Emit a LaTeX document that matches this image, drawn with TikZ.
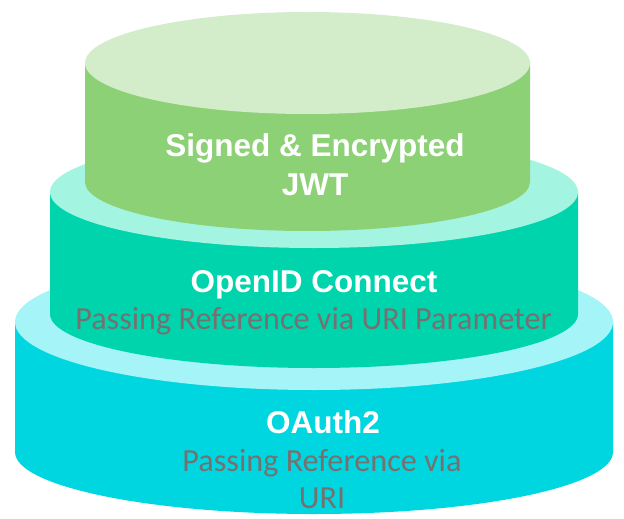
\documentclass[tikz,border=0pt]{standalone}
\usepackage{fontspec}
\setmainfont{Liberation Sans}
\newfontfamily\notefont{Carlito}

\definecolor{jwttop}{HTML}{D3EDCB}
\definecolor{jwtbody}{HTML}{8DD176}
\definecolor{oidctop}{HTML}{A3F5E1}
\definecolor{oidcbody}{HTML}{00D4AC}
\definecolor{oauthtop}{HTML}{A4F4F8}
\definecolor{oauthbody}{HTML}{00D6E0}
\definecolor{notegray}{HTML}{767171}

\tikzset{
  title/.style={text=white, inner sep=0pt, anchor=base,
    font=\fontsize{31.5}{39}\selectfont\bfseries},
  note/.style={text=notegray, inner sep=0pt, anchor=base,
    font=\notefont\fontsize{32.2}{38}\selectfont},
}

\begin{document}
\begin{tikzpicture}[x=1pt,y=-1pt]
\useasboundingbox (0,0) rectangle (624,519);

% bottom drum: OAuth2
\fill[oauthbody] (15,322) -- (15,452)
  arc[start angle=180,end angle=360,x radius=299pt,y radius=62pt]
  -- (613,322) -- cycle;
\fill[oauthtop] (314,322) ellipse[x radius=299pt,y radius=68pt];

% middle drum: OpenID Connect
\fill[oidcbody] (50,192) -- (50,314)
  arc[start angle=180,end angle=360,x radius=264pt,y radius=54pt]
  -- (578,192) -- cycle;
\fill[oidctop] (314,192) ellipse[x radius=264pt,y radius=56pt];

% top drum: JWT
\fill[jwtbody] (85,63) -- (85,182)
  arc[start angle=180,end angle=360,x radius=222.5pt,y radius=49pt]
  -- (530,63) -- cycle;
\fill[jwttop] (307.5,63) ellipse[x radius=222.5pt,y radius=51pt];

% labels
\node[title] (jwt1) at (315,156) {Signed \& Encrypted};
\node[title] (jwt2) at (315,195) {JWT};

\node[title] (oidc) at (314,292) {OpenID Connect};
\node[note]  (oidcnote) at (313.5,329) {Passing Reference via URI Parameter};

\node[title] (oauth) at (323,433) {OAuth2};
\node[note]  (oauthnote1) at (322,471) {Passing Reference via};
\node[note]  (oauthnote2) at (322,508) {URI};
\end{tikzpicture}
\end{document}
